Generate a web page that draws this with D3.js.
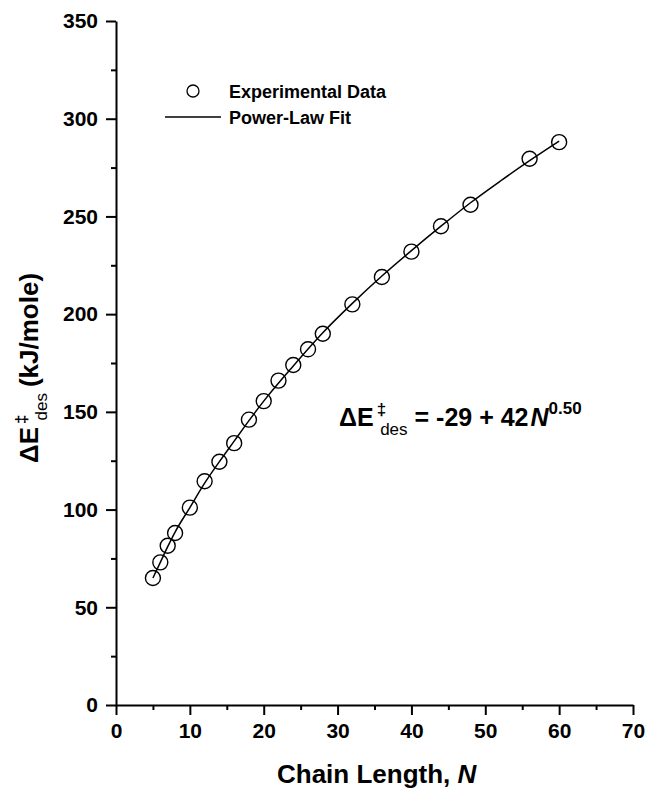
<html>
  <head>
    <script src="https://d3js.org/d3.v7.min.js"></script>
    <style>
      body { margin: 0; background: #fff; }
      text { font-family: "Liberation Sans", Arial, sans-serif; font-weight: bold; fill: #000; }
    </style>
  </head>
  <body>
    <script>
      // chain length N and measured desorption barrier (kJ/mole)
      var chainN = [5, 6, 7, 8, 10, 12, 14, 16, 18, 20, 22, 24, 26, 28, 32, 36, 40, 44, 48, 56, 60];
      var energy = [65, 73, 81.5, 88, 101, 114.5, 124.5, 134, 146, 155.5, 166, 174, 182, 190, 205, 219, 232, 245, 256, 279.5, 288];

      // power-law fit curve
      var fitN = [5, 6, 7, 8, 10, 12, 14, 16, 18, 20, 24, 28, 32, 36, 40, 44, 48, 52, 56, 60];
      var fitE = [65, 73, 81, 88.5, 101, 113.5, 124.5, 135, 145.5, 155.5, 173.5, 190.5, 205.5, 219.5, 232.5, 245, 257, 268, 278.5, 288.5];

      var xTicks = [0, 10, 20, 30, 40, 50, 60, 70];
      var yTicks = [0, 50, 100, 150, 200, 250, 300, 350];

      var width = 645, height = 789;
      var plotLeft = 116, plotRight = 633, plotTop = 21, plotBottom = 705;

      var svg = d3.select("body").append("svg")
                  .attr("width", width).attr("height", height);

      var x = d3.scaleLinear().domain([0, 70]).range([plotLeft, plotRight]);
      var y = d3.scaleLinear().domain([0, 350]).range([plotBottom, plotTop]);

      // minor ticks first, then the labelled axes on top
      svg.append("g").attr("transform", "translate(0," + plotBottom + ")")
         .call(d3.axisBottom(x).tickValues(d3.range(5, 70, 10)).tickSize(5).tickFormat(""))
         .call(function(g) { g.select(".domain").remove(); })
         .selectAll("line").attr("stroke-width", 2);
      svg.append("g").attr("transform", "translate(" + plotLeft + ",0)")
         .call(d3.axisLeft(y).tickValues(d3.range(25, 350, 50)).tickSize(5).tickFormat(""))
         .call(function(g) { g.select(".domain").remove(); })
         .selectAll("line").attr("stroke-width", 2);

      var xAxis = svg.append("g").attr("transform", "translate(0," + plotBottom + ")")
         .call(d3.axisBottom(x).tickValues(xTicks).tickSize(10).tickSizeOuter(0).tickPadding(8));
      var yAxis = svg.append("g").attr("transform", "translate(" + plotLeft + ",0)")
         .call(d3.axisLeft(y).tickValues(yTicks).tickSize(10).tickSizeOuter(0).tickPadding(8));

      [xAxis, yAxis].forEach(function(a) {
        a.select(".domain").attr("stroke-width", 2);
        a.selectAll("line").attr("stroke-width", 2);
        a.selectAll("text").attr("font-size", 21).attr("font-family", null);
      });

      // fit line
      var line = d3.line()
                   .x(function(d, i) { return x(fitN[i]); })
                   .y(function(d) { return y(d); })
                   .curve(d3.curveMonotoneX);
      svg.append("path").datum(fitE)
         .attr("d", line).attr("fill", "none")
         .attr("stroke", "#000").attr("stroke-width", 1.5);

      // data points
      svg.selectAll("circle.pt").data(energy).enter().append("circle")
         .attr("class", "pt")
         .attr("cx", function(d, i) { return x(chainN[i]); })
         .attr("cy", function(d) { return y(d); })
         .attr("r", 7.5)
         .attr("fill", "none").attr("stroke", "#000").attr("stroke-width", 1.4);

      // legend
      svg.append("circle").attr("cx", 193).attr("cy", 91).attr("r", 6)
         .attr("fill", "none").attr("stroke", "#000").attr("stroke-width", 1.3);
      svg.append("line").attr("x1", 165).attr("x2", 221).attr("y1", 117).attr("y2", 117)
         .attr("stroke", "#000").attr("stroke-width", 1.5);
      svg.append("text").attr("x", 229).attr("y", 98).attr("font-size", 18).text("Experimental Data");
      svg.append("text").attr("x", 229).attr("y", 124).attr("font-size", 18).text("Power-Law Fit");

      // equation
      var eq = svg.append("text").attr("x", 339).attr("y", 426).attr("font-size", 25);
      eq.append("tspan").text("\u0394E");
      eq.append("tspan").attr("font-size", 17).attr("dx", 3).attr("dy", -11).text("\u2021");
      eq.append("tspan").attr("font-size", 17).attr("dx", -6).attr("dy", 20).attr("font-weight", "normal").text("des");
      eq.append("tspan").attr("dy", -9).attr("dx", 7).text("= -29 + 42");
      eq.append("tspan").attr("font-style", "italic").attr("dx", 2).text("N");
      eq.append("tspan").attr("font-size", 17).attr("dy", -12).text("0.50");

      // axis titles
      svg.append("text").attr("x", 277).attr("y", 783).attr("font-size", 26)
         .text("Chain Length, ")
         .append("tspan").attr("font-style", "italic").text("N");

      var yl = svg.append("text").attr("transform", "translate(38,463) rotate(-90)").attr("font-size", 26);
      yl.append("tspan").text("\u0394E");
      yl.append("tspan").attr("font-size", 17).attr("dx", 3).attr("dy", -11).text("\u2021");
      yl.append("tspan").attr("font-size", 17).attr("dx", -6).attr("dy", 20).attr("font-weight", "normal").text("des");
      yl.append("tspan").attr("dy", -9).attr("dx", 6).text("(kJ/mole)");
    </script>
  </body>
</html>
